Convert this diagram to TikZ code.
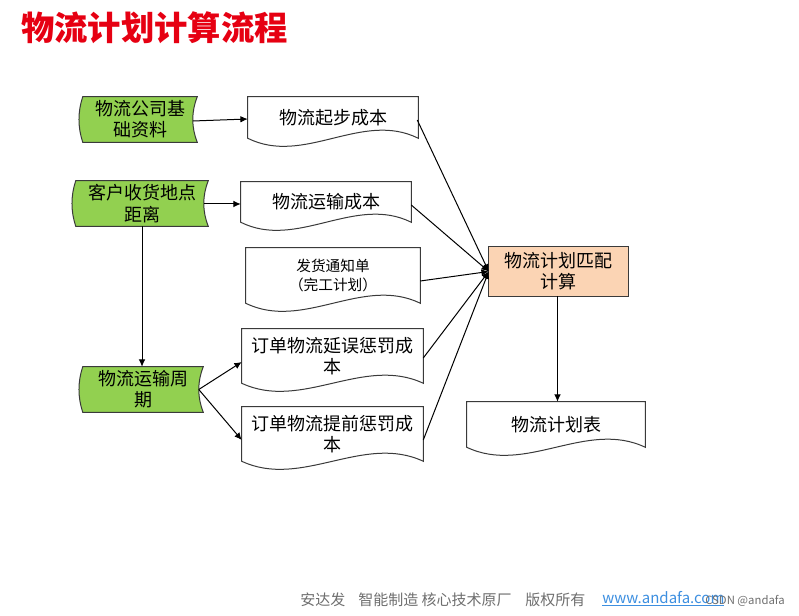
\documentclass[tikz,border=0pt]{standalone}
\usepackage{fontspec}
\setmainfont{Noto Sans CJK SC}
\newfontfamily\cjk{Noto Sans CJK SC}
\usetikzlibrary{arrows.meta,calc,backgrounds}
\definecolor{gfill}{HTML}{92D050}
\definecolor{ofill}{HTML}{FBD4B4}
\definecolor{edgecol}{HTML}{3A3A3A}
\definecolor{titlered}{HTML}{E60012}
\definecolor{footgray}{HTML}{6E6E6E}
\definecolor{urlblue}{HTML}{3D8FE0}
\newcommand\docout[1]{%
  \draw[outline, fill=white] (#1.north west) -- (#1.north east) -- (#1.south east)
    .. controls ($(#1.south east)!0.33!(#1.south west)+(0,-28)$) and ($(#1.south east)!0.67!(#1.south west)+(0,28)$) .. (#1.south west) -- cycle;}
\newcommand\storeout[1]{%
  \draw[outline, fill=gfill] (#1.north west) -- (#1.north east)
    .. controls ($(#1.north east)+(-6,15)$) and ($(#1.south east)+(-6,-15)$) .. (#1.south east)
    -- (#1.south west)
    .. controls ($(#1.south west)+(-5,-15)$) and ($(#1.north west)+(-5,15)$) .. (#1.north west) -- cycle;}
\begin{document}
\begin{tikzpicture}[x=0.75pt,y=-0.75pt,
  body/.style={font=\cjk\fontsize{13.5}{16}\selectfont, align=center, inner sep=0pt, text=black},
  small/.style={font=\cjk\fontsize{11}{14.3}\selectfont, align=center, inner sep=0pt},
  outline/.style={draw=edgecol, line width=0.75pt},
  conn/.style={draw=black, line width=0.75pt, -{Latex[length=5.5pt,width=5pt]}},
  foot/.style={anchor=west, inner sep=0pt, text=footgray, font=\cjk\fontsize{11.25}{13}\selectfont}
]
\useasboundingbox (0,0) rectangle (799,616);

% title
\node[anchor=west, inner sep=0pt, text=titlered, font=\cjk\bfseries\fontsize{25}{25}\selectfont] (title) at (21,28) {物流计划计算流程};

% green stored-data nodes
\node[body, minimum width=85.5pt, minimum height=33.75pt] (G1) at (140,119.5) {物流公司基\\础资料};
\node[body, minimum width=99pt, minimum height=33.75pt] (G2) at (142,203.5) {客户收货地点\\距离};
\node[body, minimum width=90pt, minimum height=33.75pt] (G3) at (143,389.5) {物流运输周\\期};

% documents
\node[body, minimum width=127.5pt, minimum height=30.75pt] (D1) at (333,117.5) {物流起步成本};
\node[body, minimum width=127.5pt, minimum height=30pt] (D2) at (326,202) {物流运输成本};
\node[small, minimum width=130.5pt, minimum height=41.25pt] (D3) at (333,275.5) {发货通知单\\（完工计划）};
\node[body, minimum width=135.75pt, minimum height=40.5pt] (D4) at (332.5,356) {订单物流延误惩罚成\\本};
\node[body, minimum width=135.75pt, minimum height=40.5pt] (D5) at (332.5,434) {订单物流提前惩罚成\\本};
\node[body, minimum width=133.5pt, minimum height=33.75pt] (D6) at (556,424.5) {物流计划表};

% process
\node[body, minimum width=104.25pt, minimum height=36.75pt] (O) at (558.5,271.5) {物流计划匹配\\计算};

\begin{scope}[on background layer]
  \storeout{G1}
  \storeout{G2}
  \storeout{G3}
  \docout{D1}
  \docout{D2}
  \docout{D3}
  \docout{D4}
  \docout{D5}
  \docout{D6}
  \draw[outline, fill=ofill] (O.north west) rectangle (O.south east);
\end{scope}

% connectors
\draw[conn] ($(G1.east)+(-4.5,1.5)$) -- ($(D1.west)+(0,1.5)$);
\draw[conn] ($(G2.east)+(-4.5,0.5)$) -- ($(D2.west)+(0,2)$);
\draw[conn] (G2.south -| G2.center) -- (G3.north -| G2.center);
\draw[conn] ($(G3.east)+(-4.5,0)$) -- ($(D4.west)+(0,6)$);
\draw[conn] ($(G3.east)+(-4.5,0)$) -- ($(D5.west)+(0,6)$);
\draw[conn] ($(D1.east)+(-1,2.5)$) -- (O.west);
\draw[conn] ($(D2.east)+(0,3)$) -- (O.west);
\draw[conn] ($(D3.east)+(0,5.5)$) -- (O.west);
\draw[conn] ($(D4.east)+(0,2)$) -- (O.west);
\draw[conn] ($(D5.east)+(0,6)$) -- (O.west);
\draw[conn] ($(O.south)+(-1,0)$) -- ($(O.south |- D6.north)+(-1,0)$);

% footer
\node[foot] (f1) at (300,600) {安达发};
\node[foot] (f2) at (358,600) {智能制造 核心技术原厂};
\node[foot] (f3) at (525,600) {版权所有};
\node[foot, text=urlblue] (f4) at (602,599) {\underline{www.andafa.com}};
\node[anchor=west, inner sep=0pt, text=footgray, font=\cjk\fontsize{8.5}{10}\selectfont] (f5) at (705,601) {CSDN @andafa};
\end{tikzpicture}
\end{document}
